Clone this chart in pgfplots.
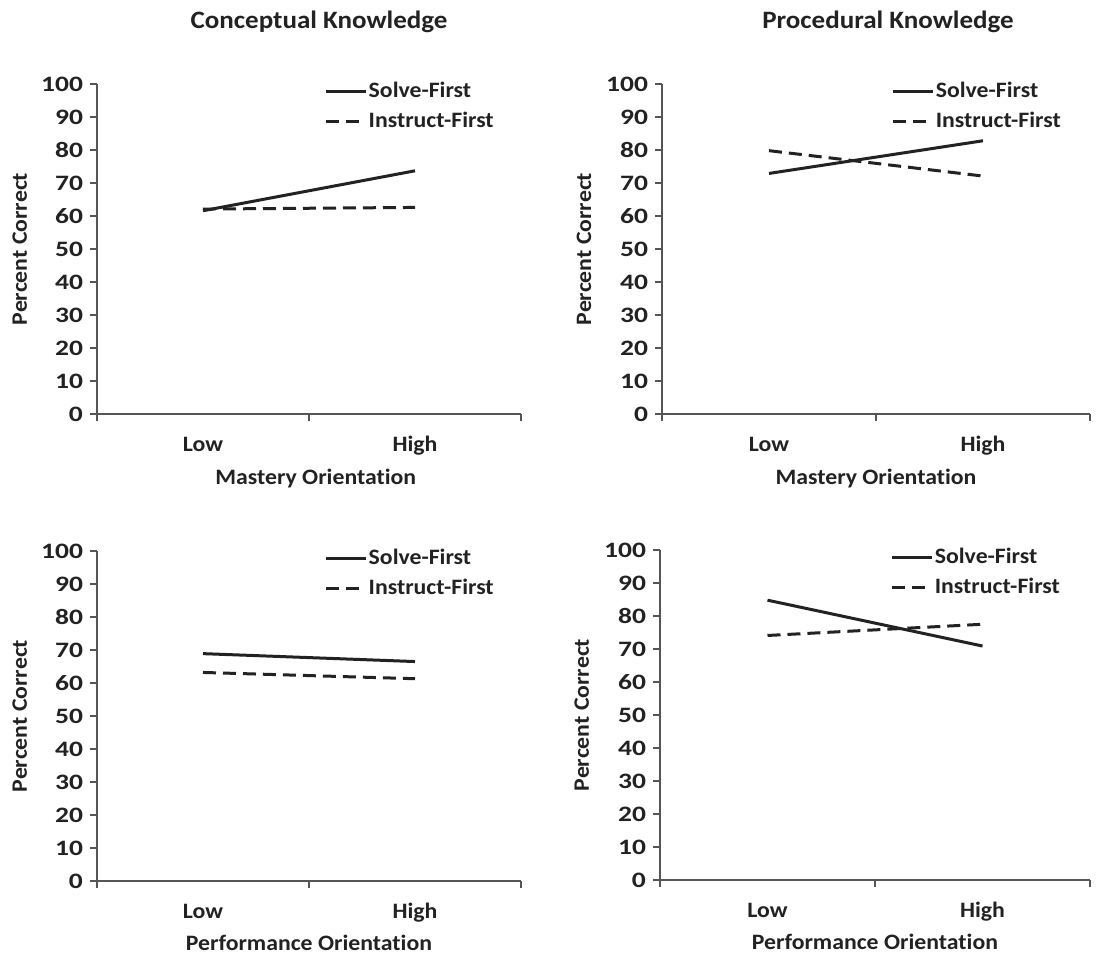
\documentclass[border=0pt]{standalone}
\usepackage{fontspec}
\setmainfont{Carlito}[FakeStretch=1.08, Ligatures=NoCommon]
\newfontfamily\tickfont{Carlito}[FakeStretch=1.25, Ligatures=NoCommon]
\usepackage{pgfplots}
\pgfplotsset{compat=1.18}
\definecolor{ink}{HTML}{222222}
\definecolor{axisgray}{HTML}{555555}
\newcommand{\lblfont}{\fontsize{11}{13}\selectfont\bfseries}
\newcommand{\tklfont}{\tickfont\fontsize{11}{13}\selectfont\bfseries}
\pgfplotsset{
  panel/.style={
    scale only axis, height=165pt,
    axis lines=left, axis line style={-, draw=axisgray, line width=0.8pt},
    xmin=0, xmax=2, ymin=0, ymax=100,
    ytick={0,10,...,100},
    xtick={0,1,2}, xticklabels={,,},
    extra x ticks={0.5,1.5}, extra x tick labels={Low,High},
    extra x tick style={major tick length=0pt, xticklabel style={anchor=base, yshift=-18.5pt, font=\lblfont}},
    tick align=outside, major tick length=3.5pt,
    tick style={draw=axisgray, line width=0.8pt},
    /pgf/number format/assume math mode=true,
    tick label style={font=\tklfont, text=ink},
    label style={font=\lblfont, text=ink},
    ylabel={Percent Correct},
    ylabel style={at={(axis description cs:-0.182,0.5)}, anchor=center},
    xlabel style={at={(axis description cs:0.5,-0.194)}, anchor=center},
    legend style={draw=none, fill=none, font=\lblfont, text=ink,
      at={(axis description cs:0.522,1.0)}, anchor=north west, yshift=5pt,
      row sep=1.5pt, column sep=0pt, nodes={inner xsep=0.5pt}, legend cell align=left},
    legend image code/.code={\draw[##1] (0pt,0pt) -- (20pt,0pt);},
  },
  sf/.style={ink, line width=1.5pt},
  inf/.style={ink, line width=1.5pt, dash pattern=on 6.5pt off 3.5pt},
}
\begin{document}
\begin{tikzpicture}
\useasboundingbox (0,0) rectangle (549pt,-477pt);
\node[font=\fontsize{12.5}{15}\selectfont\bfseries, text=ink] at (159.5pt,-11pt) {Conceptual Knowledge};
\node[font=\fontsize{12.5}{15}\selectfont\bfseries, text=ink] at (444pt,-11pt) {Procedural Knowledge};
% Top-left
\begin{axis}[panel, width=212pt, at={(48.5pt,-207pt)}, anchor=south west, xlabel={Mastery Orientation},
  xlabel style={at={(axis description cs:0.516,-0.194)}}]
\addplot[sf] coordinates {(0.5,61.6) (1.5,73.7)};
\addlegendentry{Solve-First}
\addplot[inf] coordinates {(0.5,62.1) (1.5,62.6)};
\addlegendentry{Instruct-First}
\end{axis}
% Top-right
\begin{axis}[panel, width=214pt, at={(331pt,-207pt)}, anchor=south west, xlabel={Mastery Orientation}]
\addplot[sf] coordinates {(0.5,72.9) (1.5,82.8)};
\addlegendentry{Solve-First}
\addplot[inf] coordinates {(0.5,79.8) (1.5,72.1)};
\addlegendentry{Instruct-First}
\end{axis}
% Bottom-left
\begin{axis}[panel, width=212pt, at={(48.5pt,-440.5pt)}, anchor=south west, xlabel={Performance Orientation},
  xlabel style={at={(axis description cs:0.5,-0.188)}}]
\addplot[sf] coordinates {(0.5,68.9) (1.5,66.5)};
\addlegendentry{Solve-First}
\addplot[inf] coordinates {(0.5,63.2) (1.5,61.3)};
\addlegendentry{Instruct-First}
\end{axis}
% Bottom-right
\begin{axis}[panel, width=215pt, at={(330pt,-440pt)}, anchor=south west, xlabel={Performance Orientation},
  xlabel style={at={(axis description cs:0.5,-0.188)}}]
\addplot[sf] coordinates {(0.5,84.8) (1.5,70.9)};
\addlegendentry{Solve-First}
\addplot[inf] coordinates {(0.5,74.1) (1.5,77.5)};
\addlegendentry{Instruct-First}
\end{axis}
\end{tikzpicture}
\end{document}
